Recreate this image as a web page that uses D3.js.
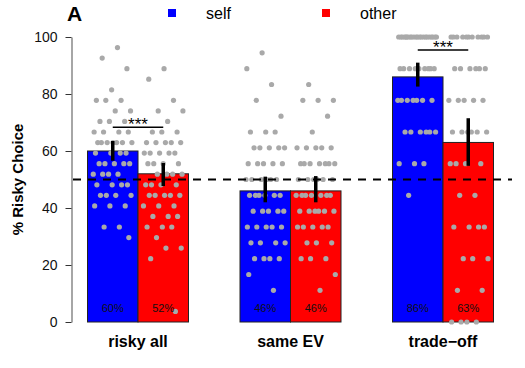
<!DOCTYPE html>
<html lang="en">
<head>
  <meta charset="UTF-8">
  <title>Risky choice: self vs other</title>
  <script src="https://d3js.org/d3.v7.min.js"></script>
  <style>
    body { margin: 0; background: #fff; }
    svg { display: block; font-family: "Liberation Sans", Arial, sans-serif; }
  </style>
</head>
<body>
  <svg id="chart" width="525" height="368"></svg>
  <script>
    const categories = ["risky all", "same EV", "trade\u2212off"];
    const groups = ["self", "other"];
    const colors = ["#0000ff", "#ff0000"];

    // bar means (%)
    const selfMeans = [60, 46, 86];
    const otherMeans = [52, 46, 63];

    // error bar ranges [low, high] (%)
    const selfErr = [[56.6, 63.5], [42, 51], [82.6, 91]];
    const otherErr = [[47.7, 55.8], [42, 51.2], [54.8, 71.5]];

    // number of trials per condition
    const trials = [27, 18, 9];

    // risky choices per participant (count out of trials)
    const riskyAllSelf = [26, 25, 24, 22, 21, 21, 21, 20, 20, 19, 19, 19, 18, 18, 18, 18,
      17, 17, 17, 17, 17, 17, 17, 16, 16, 16, 16, 15, 15, 15, 15, 15, 14, 14, 14, 14,
      13, 13, 13, 13, 12, 12, 12, 12, 11, 11, 11, 9, 9, 8];
    const riskyAllOther = [24, 23, 21, 20, 20, 19, 18, 18, 18, 17, 17, 17, 17, 17,
      16, 16, 16, 16, 16, 15, 15, 15, 15, 14, 14, 14, 14, 13, 13, 13, 13, 12, 12, 12, 12, 12,
      11, 11, 11, 10, 10, 10, 9, 9, 9, 8, 7, 7, 6, 1];
    const sameEVSelf = [17, 16, 15, 14, 13, 12, 12, 12, 11, 11, 11, 11, 11, 10, 10, 10, 10, 10,
      9, 9, 9, 9, 9, 9, 8, 8, 8, 8, 8, 8, 7, 7, 7, 7, 7, 6, 6, 6, 6, 6, 5, 5, 5, 5, 4, 4, 4, 4, 3, 2];
    const sameEVOther = [15, 14, 14, 14, 13, 12, 11, 11, 11, 11, 11, 10, 10, 10, 10, 10, 10, 10,
      9, 9, 9, 9, 9, 9, 8, 8, 8, 8, 8, 8, 8, 7, 7, 7, 7, 7, 7, 6, 6, 6, 6, 6, 5, 5, 5, 4, 4, 4, 3, 2];
    const tradeOffSelf = [9, 9, 9, 9, 9, 9, 9, 9, 9, 9, 9, 9, 9, 9, 9, 9, 9, 9, 9, 9, 9, 9,
      8, 8, 8, 8, 8, 8, 8, 8, 8, 7, 7, 7, 7, 7, 7, 7, 6, 6, 6, 6, 6, 6, 5, 5, 5, 4];
    const tradeOffOther = [9, 9, 9, 9, 9, 9, 9, 9, 9, 9, 9, 8, 8, 8, 8, 8, 8, 7, 7, 7, 7, 7,
      6, 6, 6, 6, 6, 6, 5, 5, 5, 5, 4, 4, 3, 3, 3, 3, 2, 2, 2, 1, 1, 0, 0, 0, 0];

    const selfPoints = [riskyAllSelf, sameEVSelf, tradeOffSelf];
    const otherPoints = [riskyAllOther, sameEVOther, tradeOffOther];

    // significance brackets: category index and height (%)
    const sigCats = [0, 2];
    const sigLevels = [68.3, 95.4];
    const sigLabels = ["***", "***"];

    const yTicks = [0, 20, 40, 60, 80, 100];
    const refLine = 50;

    const svg = d3.select("#chart");
    const x = d3.scaleBand().domain(categories).range([61.75, 519.25]);
    const xSub = d3.scaleBand().domain(groups).range([-50.5, 50.5]);
    const y = d3.scaleLinear().domain([0, 100]).range([322, 37]);

    // rows: one per bar
    const rows = [];
    categories.forEach((c, i) => {
      rows.push({ cat: c, grp: "self", color: colors[0], mean: selfMeans[i], err: selfErr[i], pts: selfPoints[i], n: trials[i] });
      rows.push({ cat: c, grp: "other", color: colors[1], mean: otherMeans[i], err: otherErr[i], pts: otherPoints[i], n: trials[i] });
    });
    rows.forEach(r => { r.cx = x(r.cat) + x.bandwidth() / 2 + xSub(r.grp) + xSub.bandwidth() / 2; });

    // bars
    svg.append("g").selectAll("rect").data(rows).join("rect")
      .attr("x", d => d.cx - xSub.bandwidth() / 2)
      .attr("y", d => y(d.mean))
      .attr("width", xSub.bandwidth())
      .attr("height", d => y(0) - y(d.mean))
      .attr("fill", d => d.color)
      .attr("stroke", "#222")
      .attr("stroke-width", 1);

    // participant points, fixed (golden-ratio) horizontal jitter
    const jitterW = 40;
    const dots = [];
    let idx = 0;
    rows.forEach(r => {
      r.pts.forEach(v => {
        idx++;
        const f = (idx * 0.6180339887) % 1;
        dots.push({ x: r.cx + (f - 0.5) * jitterW, v: v / r.n * 100 });
      });
    });
    svg.append("g").selectAll("circle").data(dots).join("circle")
      .attr("cx", d => d.x)
      .attr("cy", d => y(d.v))
      .attr("r", 2.6)
      .attr("fill", "#a9a9a9");

    // reference line
    svg.append("line")
      .attr("x1", 73).attr("x2", 512)
      .attr("y1", y(refLine)).attr("y2", y(refLine))
      .attr("stroke", "#000").attr("stroke-width", 2)
      .attr("stroke-dasharray", "8,7");

    // error bars
    svg.append("g").selectAll("line").data(rows).join("line")
      .attr("x1", d => d.cx).attr("x2", d => d.cx)
      .attr("y1", d => y(d.err[0])).attr("y2", d => y(d.err[1]))
      .attr("stroke", "#000").attr("stroke-width", 3.5);

    // percent labels
    svg.append("g").selectAll("text").data(rows).join("text")
      .attr("x", d => d.cx)
      .attr("y", 312)
      .attr("text-anchor", "middle")
      .attr("font-size", 11)
      .attr("fill", "#111")
      .text(d => d.mean + "%");

    // significance
    sigCats.forEach((ci, i) => {
      const c = x(categories[ci]) + x.bandwidth() / 2;
      const x1 = c + xSub("self") + xSub.bandwidth() / 2;
      const x2 = c + xSub("other") + xSub.bandwidth() / 2;
      svg.append("line")
        .attr("x1", x1).attr("x2", x2)
        .attr("y1", y(sigLevels[i])).attr("y2", y(sigLevels[i]))
        .attr("stroke", "#000").attr("stroke-width", 1.5);
      svg.append("text")
        .attr("x", (x1 + x2) / 2)
        .attr("y", y(sigLevels[i]) + 3)
        .attr("text-anchor", "middle")
        .attr("font-size", 17)
        .text(sigLabels[i]);
    });

    // y axis
    const yAxis = svg.append("g")
      .attr("transform", "translate(71.5,0)")
      .call(d3.axisLeft(y).tickValues(yTicks).tickSize(6).tickSizeOuter(0).tickPadding(8));
    yAxis.select(".domain").attr("stroke", "#888").attr("stroke-width", 1.5);
    yAxis.selectAll(".tick line").attr("stroke", "#333");
    yAxis.selectAll(".tick text")
      .attr("font-size", 14)
      .attr("font-family", "Liberation Sans, Arial, sans-serif")
      .attr("fill", "#111");

    svg.append("text")
      .attr("transform", `translate(23,${y(50)}) rotate(-90)`)
      .attr("text-anchor", "middle")
      .attr("font-size", 15)
      .attr("font-weight", "bold")
      .text("% Risky Choice");

    // category labels
    svg.append("g").selectAll("text").data(categories).join("text")
      .attr("x", d => x(d) + x.bandwidth() / 2)
      .attr("y", 347)
      .attr("text-anchor", "middle")
      .attr("font-size", 16)
      .attr("font-weight", "bold")
      .text(d => d);

    // panel letter
    svg.append("text")
      .attr("x", 67).attr("y", 21)
      .attr("font-size", 21)
      .attr("font-weight", "bold")
      .text("A");

    // legend
    const legX = [172, 326];
    groups.forEach((g, i) => {
      svg.append("rect")
        .attr("x", legX[i] - 4).attr("y", 9)
        .attr("width", 8).attr("height", 8)
        .attr("fill", colors[i]);
      svg.append("text")
        .attr("x", legX[i] + 34).attr("y", 19)
        .attr("font-size", 16)
        .text(g);
    });
  </script>
</body>
</html>
